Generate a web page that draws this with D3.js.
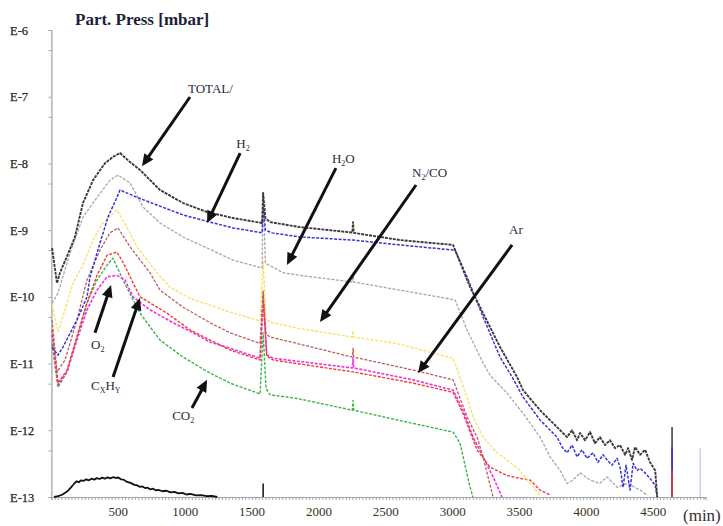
<!DOCTYPE html>
<html>
<head>
<meta charset="utf-8">
<script src="https://cdn.jsdelivr.net/npm/d3@7"></script>
<style>
  html, body { margin: 0; padding: 0; background: #fff; }
  svg { display: block; }
  text { font-family: "Liberation Serif", "Times New Roman", serif; }
</style>
</head>
<body>
<svg id="chart" width="723" height="526"></svg>
<script>
// Partial pressures during the bake-out run: [time (min), pressure (mbar)]
const TOTAL = [[5,5.4e-10],[42,1.6e-10],[64,2.3e-10],[120,4.2e-10],[176,7.9e-10],[236,2.55e-9],[311,5.6e-9],[401,1.01e-8],[460,1.25e-8],[513,1.43e-8],[580,1.08e-8],[662,8.0e-9],[812,4.0e-9],[984,2.55e-9],[1163,1.87e-9],[1358,1.52e-9],[1575,1.28e-9],[1583,3.6e-9],[1600,1.5e-9],[1635,1.32e-9],[1859,1.11e-9],[2250,9.2e-10],[2255,1.32e-9],[2260,9.1e-10],[2607,7.1e-10],[3003,6.0e-10],[3130,1.4e-10],[3227,5.7e-11],[3354,1.77e-11],[3481,6.3e-12],[3526,4.0e-12],[3653,2.0e-12],[3750,1.28e-12],[3855,7.9e-13],[3892,1.0e-12],[3930,7.1e-13],[3952,9.1e-13],[3989,7.1e-13],[4027,9.4e-13],[4064,6.4e-13],[4101,7.9e-13],[4139,6.0e-13],[4176,7.1e-13],[4214,5.4e-13],[4251,6.0e-13],[4289,4.3e-13],[4311,5.4e-13],[4341,3.6e-13],[4363,5.6e-13],[4401,4.3e-13],[4438,5.1e-13],[4476,3.3e-13],[4514,2.5e-13],[4529,1e-13]];

const H2 = [[5,1.77e-11],[49,1.34e-11],[87,1.77e-11],[191,4.5e-11],[266,9.95e-11],[289,1.98e-10],[363,6.4e-10],[423,1.57e-9],[490,3.1e-9],[513,4.0e-9],[640,3.1e-9],[789,2.38e-9],[984,1.69e-9],[1186,1.32e-9],[1358,1.08e-9],[1575,9.1e-10],[1583,2.2e-9],[1600,1.0e-9],[1650,9.1e-10],[1859,7.9e-10],[2255,7.1e-10],[2607,6.0e-10],[3018,5.0e-10],[3107,2.0e-10],[3227,5.0e-11],[3354,1.25e-11],[3444,6.3e-12],[3526,3.15e-12],[3653,1.43e-12],[3780,7.9e-13],[3818,5.6e-13],[3855,4.6e-13],[3892,6.0e-13],[3930,4.0e-13],[3967,5.1e-13],[4004,3.8e-13],[4049,4.6e-13],[4086,3.3e-13],[4124,4.3e-13],[4154,3.6e-13],[4191,3.0e-13],[4229,3.8e-13],[4251,2.8e-13],[4274,1.4e-13],[4296,3.0e-13],[4326,1.27e-13],[4349,3.2e-13],[4379,2.5e-13],[4401,2.7e-13],[4438,2.3e-13],[4476,1.9e-13],[4514,1.5e-13],[4529,1e-13]];

const H2O = [[5,8e-11],[49,1.14e-10],[139,4.5e-10],[236,1.57e-9],[341,3.1e-9],[438,5.6e-9],[498,6.7e-9],[588,5.1e-9],[685,2.22e-9],[812,1.28e-9],[984,7.9e-10],[1163,5.4e-10],[1358,3.56e-10],[1575,2.7e-10],[1583,3.7e-9],[1600,3.2e-10],[1732,2.3e-10],[1859,2.1e-10],[2250,1.67e-10],[2255,2.2e-10],[2260,1.67e-10],[2607,1.26e-10],[3018,9.0e-11],[3107,3.2e-11],[3227,1.02e-11],[3279,6.7e-12],[3406,3.6e-12],[3526,1.8e-12],[3653,7.9e-13],[3728,4.0e-13],[3803,2.5e-13],[3855,1.6e-13],[3900,1.8e-13],[3952,2.3e-13],[4027,1.8e-13],[4101,1.6e-13],[4154,2.0e-13],[4229,1.4e-13],[4304,1.6e-13],[4401,1.27e-13],[4453,1.07e-13]];

const N2CO = [[5,7.6e-11],[49,3.0e-11],[102,6.4e-11],[161,1.6e-10],[236,3.0e-10],[311,7.1e-10],[386,1.28e-9],[490,2.0e-9],[565,1.11e-9],[640,5.6e-10],[789,2.3e-10],[886,1.4e-10],[1036,9.5e-11],[1186,7.5e-11],[1335,5.9e-11],[1560,4.35e-11],[1583,3.3e-10],[1605,4.6e-11],[1635,4.2e-11],[1837,3.4e-11],[2250,2.5e-11],[2255,3.1e-11],[2260,2.5e-11],[2584,2.0e-11],[3003,1.2e-11],[3107,3.15e-12],[3152,1.6e-12],[3227,7.9e-13],[3332,4.6e-13],[3406,3.6e-13],[3503,2.5e-13],[3578,1.6e-13],[3653,1.07e-13]];

const AR = [[5,4.5e-11],[42,7.5e-12],[102,1.13e-11],[191,4.5e-11],[266,1.79e-10],[363,5.0e-10],[438,9.1e-10],[498,1.08e-9],[588,5.6e-10],[737,2.3e-10],[812,1.26e-10],[984,7.0e-11],[1186,4.1e-11],[1335,2.9e-11],[1560,2.0e-11],[1583,1.26e-10],[1605,2.8e-11],[1635,2.5e-11],[1837,2.0e-11],[2250,1.25e-11],[2255,1.7e-11],[2260,1.25e-11],[2704,8.0e-12],[3003,5.7e-12],[3107,1.6e-12],[3182,7.9e-13],[3227,4.0e-13],[3302,1e-13]];

const O2 = [[5,3.2e-11],[49,5.1e-12],[117,8.0e-12],[191,2.5e-11],[266,8.1e-11],[341,2.1e-10],[416,4.2e-10],[490,4.7e-10],[535,3.3e-10],[662,1.0e-10],[864,5.7e-11],[1036,3.2e-11],[1186,2.25e-11],[1335,1.6e-11],[1560,1.13e-11],[1583,1.1e-10],[1610,1.3e-11],[1658,1.13e-11],[2255,7.5e-12],[2704,5.1e-12],[3003,3.7e-12],[3077,1.8e-12],[3182,5.1e-13],[3279,2.8e-13],[3406,2.1e-13],[3503,1.9e-13],[3578,1.8e-13],[3653,1.27e-13],[3728,1.07e-13]];

const CXHY = [[5,2.7e-11],[49,4.8e-12],[117,7.5e-12],[191,2.25e-11],[266,6.4e-11],[341,1.26e-10],[416,2.0e-10],[490,2.1e-10],[550,1.8e-10],[610,1.0e-10],[737,6.4e-11],[909,4.1e-11],[1059,2.9e-11],[1186,2.1e-11],[1335,1.7e-11],[1560,1.2e-11],[1583,9e-11],[1610,1.35e-11],[1658,1.2e-11],[2250,8.6e-12],[2255,1.2e-11],[2260,8.6e-12],[2704,5.7e-12],[3003,4.0e-12],[3077,2.0e-12],[3152,7.9e-13],[3227,4.0e-13],[3302,2.0e-13],[3369,1e-13]];

const CO2 = [[5,2.0e-11],[49,4.4e-12],[117,7.5e-12],[191,2.5e-11],[266,8.1e-11],[341,1.79e-10],[416,3.0e-10],[460,3.8e-10],[535,1.79e-10],[662,5.7e-11],[812,2.25e-11],[984,1.25e-11],[1186,7.2e-12],[1335,5.1e-12],[1560,3.5e-12],[1583,2.9e-11],[1605,4.2e-12],[1635,3.4e-12],[1837,3.0e-12],[2250,2.0e-12],[2255,2.8e-12],[2260,2.0e-12],[2584,1.43e-12],[3003,9.4e-13],[3055,6.4e-13],[3130,1.4e-13],[3152,1e-13]];

// Low-level trace near the detection floor
const BASE = [[20,1e-13],[50,1.03e-13],[80,1.08e-13],[100,1.15e-13],[120,1.22e-13],[140,1.35e-13],[160,1.5e-13],[175,1.62e-13],[190,1.72e-13],[205,1.66e-13],[220,1.78e-13],[240,1.74e-13],[260,1.84e-13],[280,1.78e-13],[300,1.88e-13],[320,1.82e-13],[340,1.92e-13],[360,1.86e-13],[380,1.95e-13],[400,1.88e-13],[420,1.97e-13],[440,1.9e-13],[460,1.98e-13],[480,1.93e-13],[500,1.96e-13],[520,1.84e-13],[540,1.82e-13],[560,1.7e-13],[580,1.66e-13],[600,1.6e-13],[620,1.52e-13],[640,1.5e-13],[660,1.42e-13],[680,1.44e-13],[700,1.36e-13],[720,1.38e-13],[740,1.3e-13],[760,1.33e-13],[780,1.26e-13],[800,1.28e-13],[830,1.22e-13],[860,1.24e-13],[890,1.17e-13],[920,1.19e-13],[950,1.13e-13],[980,1.15e-13],[1010,1.09e-13],[1040,1.11e-13],[1080,1.06e-13],[1120,1.07e-13],[1160,1.03e-13],[1200,1.04e-13],[1240,1e-13]];

// Isolated single readings (series, time, pressure), drawn as drop lines from the floor
const singleReadings = [["BASE",1583,1.6e-13],["TOTAL",4640,1.12e-12],["H2",4640,5.6e-13],["O2",4640,2.5e-13],["H2O",4850,5.4e-13]];

const yTickLabels = ["E-6","E-7","E-8","E-9","E-10","E-11","E-12","E-13"];
const xTickLabels = [500,1000,1500,2000,2500,3000,3500,4000,4500];

const svg = d3.select("#chart");
const x = d3.scaleLinear().domain([0, 4890]).range([51.4, 705.5]);
const y = d3.scaleLog().domain([1e-13, 1e-6]).range([497, 30]);

// Axes
const decades = yTickLabels.map(s => Math.pow(10, +s.slice(1)));
const halves = decades.slice(0, -1).map(v => v / 2);
const yAx = svg.append("g").attr("transform", "translate(51.4,0)")
  .call(d3.axisLeft(y).tickValues(decades.concat(halves)).tickSize(3).tickFormat(""));
const xAx = svg.append("g").attr("transform", "translate(0,497)")
  .call(d3.axisBottom(x).tickValues(d3.range(0, 4876, 25)).tickSize(3).tickFormat(""));
[yAx, xAx].forEach(g => {
  g.select(".domain").attr("stroke", "#a0a0a0").attr("stroke-width", 1.2);
  g.selectAll(".tick line").attr("stroke", "#a8a8a8");
});

svg.append("g").selectAll("text").data(yTickLabels).join("text")
  .attr("x", 10).attr("y", d => y(Math.pow(10, +d.slice(1))) + 4.5)
  .attr("font-size", 12.5).attr("fill", "#2e241e").attr("stroke", "#2e241e")
  .attr("stroke-width", 0.25).text(d => d);

svg.append("g").selectAll("text").data(xTickLabels).join("text")
  .attr("x", d => x(d)).attr("y", 516).attr("text-anchor", "middle")
  .attr("font-size", 13).attr("fill", "#3a3020").text(d => d);

svg.append("text").attr("x", 683).attr("y", 521).attr("font-size", 17)
  .attr("fill", "#333").text("(min)");

svg.append("text").attr("x", 75).attr("y", 25).attr("font-size", 17)
  .attr("font-weight", "bold").attr("fill", "#1e1e3c").text("Part. Press [mbar]");

// Series
const series = [
  { key: "BASE",  data: BASE,  color: "#111111", w: 1.8, dash: null },
  { key: "CO2",   data: CO2,   color: "#3fb24a", w: 1.4, dash: "3 1.5" },
  { key: "CXHY",  data: CXHY,  color: "#f22ee6", w: 1.6, dash: "3 1.5" },
  { key: "O2",    data: O2,    color: "#f23a30", w: 1.4, dash: "3 1.5" },
  { key: "AR",    data: AR,    color: "#b9605c", w: 1.3, dash: "3 1.5" },
  { key: "N2CO",  data: N2CO,  color: "#f7e060", w: 1.3, dash: "3 1.5" },
  { key: "H2O",   data: H2O,   color: "#a6a6a6", w: 1.3, dash: "3 1.5" },
  { key: "H2",    data: H2,    color: "#3434d8", w: 1.5, dash: "3 1.5" },
  { key: "TOTAL", data: TOTAL, color: "#3a3a3a", w: 1.9, dash: "3 1" }
];
const colorOf = Object.fromEntries(series.map(s => [s.key, s.color]));

const line = d3.line().x(d => x(d[0])).y(d => y(d[1]));
svg.append("g").selectAll("path").data(series).join("path")
  .attr("d", s => line(s.data))
  .attr("fill", "none")
  .attr("stroke", s => s.color)
  .attr("stroke-width", s => s.w)
  .attr("stroke-dasharray", s => s.dash)
  .attr("stroke-linejoin", "round");

svg.append("g").selectAll("line").data(singleReadings).join("line")
  .attr("x1", d => x(d[1])).attr("x2", d => x(d[1]))
  .attr("y1", y(1e-13)).attr("y2", d => y(d[2]))
  .attr("stroke", d => d[0] === "H2O" ? "#b4bcd8" : colorOf[d[0]])
  .attr("stroke-width", d => d[0] === "H2O" ? 1 : 1.5);

// Annotations: label position and arrow from (t0,p0) to (t1,p1)
const notes = [
  { parts: [["TOTAL/", 0]],                     t: 1021, p: 1.14e-7, t0: 1036, p0: 9.9e-8,  t1: 677,  p1: 9.1e-9 },
  { parts: [["H", 0], ["2", 1]],                t: 1382, p: 1.7e-8,  t0: 1411, p0: 1.43e-8, t1: 1164, p1: 1.28e-9 },
  { parts: [["H", 0], ["2", 1], ["O", 0]],      t: 2097, p: 1.0e-8,  t0: 2127, p0: 8.5e-9,  t1: 1761, p1: 3.0e-10 },
  { parts: [["N", 0], ["2", 1], ["/CO", 0]],    t: 2696, p: 6.25e-9, t0: 2726, p0: 4.75e-9, t1: 2008, p1: 4.2e-11 },
  { parts: [["Ar", 0]],                         t: 3421, p: 8.75e-10,t0: 3444, p0: 6.0e-10, t1: 2741, p1: 7.2e-12 },
  { parts: [["O", 0], ["2", 1]],                t: 296,  p: 1.65e-11,t0: 326,  p0: 2.9e-11, t1: 446,  p1: 1.5e-10 },
  { parts: [["C", 0], ["X", 1], ["H", 0], ["Y", 1]], t: 296, p: 4.0e-12, t0: 461, p0: 6.3e-12, t1: 662, p1: 9.6e-11 },
  { parts: [["CO", 0], ["2", 1]],               t: 903,  p: 1.43e-12,t0: 1051, p0: 2.16e-12,t1: 1164, p1: 5.7e-12 }
];

const ann = svg.append("g");
notes.forEach(n => {
  const txt = ann.append("text").attr("x", x(n.t)).attr("y", y(n.p))
    .attr("font-size", 13).attr("fill", "#2a2a3a");
  let sub = false;
  n.parts.forEach(([s, isSub]) => {
    const ts = txt.append("tspan").text(s);
    if (isSub) { ts.attr("font-size", 8); }
    if (isSub && !sub) { ts.attr("dy", 3); sub = true; }
    else if (!isSub && sub) { ts.attr("dy", -3); sub = false; }
  });
  const xa = x(n.t0), ya = y(n.p0), xb = x(n.t1), yb = y(n.p1);
  const ang = Math.atan2(yb - ya, xb - xa);
  const L = 12, W = 5.5;
  const xs = xb - Math.cos(ang) * (L - 2), ys = yb - Math.sin(ang) * (L - 2);
  ann.append("line").attr("x1", xa).attr("y1", ya).attr("x2", xs).attr("y2", ys)
    .attr("stroke", "#111").attr("stroke-width", 3);
  const bx = xb - Math.cos(ang) * L, by = yb - Math.sin(ang) * L;
  const px = -Math.sin(ang) * W, py = Math.cos(ang) * W;
  ann.append("path")
    .attr("d", `M${xb},${yb}L${bx + px},${by + py}L${bx - px},${by - py}Z`)
    .attr("fill", "#111");
});
</script>
</body>
</html>
